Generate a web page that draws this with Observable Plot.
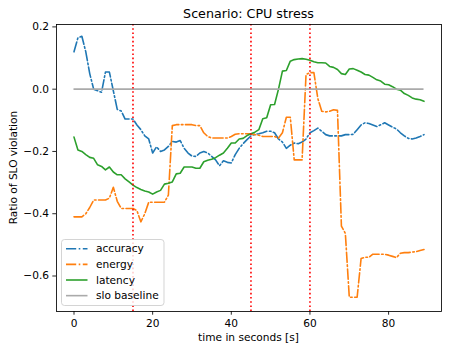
<!DOCTYPE html>
<html><head><meta charset="utf-8">
<script src="https://cdn.jsdelivr.net/npm/d3@7"></script>
<script src="https://cdn.jsdelivr.net/npm/@observablehq/plot@0.6"></script>
<style>body{margin:0;background:#fff;} #chart{width:449px;height:352px;}</style>
</head><body><div id="chart"></div>
<script>
const title = "Scenario: CPU stress";
const xLabel = "time in seconds [s]";
const yLabel = "Ratio of SLO violation";
const seriesNames = ["accuracy", "energy", "latency", "slo baseline"];
const seriesColors = ["#1f77b4", "#ff7f0e", "#2ca02c", "#aaaaaa"];
const xTicks = [0, 20, 40, 60, 80];
const yTicks = [-0.6, -0.4, -0.2, 0.0, 0.2];
const eventTimes = [15, 45, 60];
const sloBaseline = 0;

const time = [0,1,2,3,4,5,6,7,8,9,10,11,12,13,14,15,16,17,18,19,20,21,22,23,24,25,26,27,28,29,
30,31,32,33,34,35,36,37,38,39,40,41,42,43,44,45,46,47,48,49,50,51,52,53,54,55,56,57,58,59,
60,61,62,63,64,65,66,67,68,69,70,71,72,73,74,75,76,77,78,79,80,81,82,83,84,85,86,87,88,89];

const accuracy = [0.12,0.165,0.17,0.12,0.05,0.0,-0.005,-0.01,0.055,0.055,
-0.005,-0.065,-0.07,-0.096,-0.096,-0.096,-0.115,-0.13,-0.15,-0.16,
-0.205,-0.185,-0.2,-0.195,-0.184,-0.168,-0.17,-0.165,-0.19,-0.205,
-0.215,-0.216,-0.205,-0.2,-0.205,-0.216,-0.227,-0.246,-0.23,-0.235,
-0.237,-0.21,-0.19,-0.175,-0.162,-0.15,-0.145,-0.143,-0.14,-0.135,
-0.135,-0.14,-0.16,-0.17,-0.19,-0.18,-0.173,-0.175,-0.17,-0.16,
-0.14,-0.133,-0.125,-0.135,-0.146,-0.15,-0.15,-0.15,-0.15,-0.146,
-0.146,-0.145,-0.13,-0.115,-0.108,-0.11,-0.115,-0.12,-0.114,-0.108,
-0.115,-0.122,-0.128,-0.14,-0.15,-0.158,-0.16,-0.157,-0.152,-0.146];

const energy = [-0.41,-0.41,-0.41,-0.40,-0.38,-0.356,-0.356,-0.356,-0.356,-0.35,
-0.315,-0.36,-0.383,-0.383,-0.383,-0.383,-0.39,-0.426,-0.40,-0.363,
-0.363,-0.363,-0.363,-0.363,-0.34,-0.117,-0.114,-0.114,-0.114,-0.114,
-0.114,-0.117,-0.117,-0.14,-0.152,-0.157,-0.157,-0.157,-0.157,-0.157,
-0.152,-0.145,-0.143,-0.143,-0.143,-0.143,-0.146,-0.148,-0.152,-0.152,
-0.152,-0.152,-0.157,-0.14,-0.09,-0.09,-0.227,-0.227,-0.227,0.047,
0.053,0.053,-0.03,-0.071,-0.073,-0.071,-0.066,-0.068,-0.44,-0.463,
-0.668,-0.668,-0.668,-0.544,-0.54,-0.54,-0.53,-0.53,-0.53,-0.53,
-0.533,-0.537,-0.541,-0.527,-0.525,-0.525,-0.523,-0.522,-0.518,-0.515];

const latency = [-0.154,-0.195,-0.2,-0.21,-0.219,-0.222,-0.243,-0.248,-0.259,-0.25,
-0.266,-0.275,-0.275,-0.288,-0.298,-0.308,-0.316,-0.322,-0.327,-0.33,
-0.337,-0.33,-0.325,-0.305,-0.302,-0.298,-0.272,-0.27,-0.25,-0.25,
-0.25,-0.254,-0.254,-0.233,-0.228,-0.225,-0.22,-0.212,-0.205,-0.19,
-0.173,-0.173,-0.16,-0.158,-0.149,-0.143,-0.138,-0.13,-0.095,-0.092,
-0.05,-0.049,0.0,0.058,0.06,0.09,0.095,0.097,0.098,0.096,
0.093,0.088,0.085,0.085,0.084,0.073,0.07,0.063,0.05,0.047,
0.065,0.066,0.061,0.055,0.047,0.045,0.038,0.03,0.026,0.016,
0.014,0.008,0.0,-0.003,-0.014,-0.02,-0.028,-0.032,-0.034,-0.039];

const W = 449, H = 352;
const mL = 56, mR = 8, mT = 24, mB = 41;
const fontFamily = "DejaVu Sans";
const fs = 10.6;
const dashDot = "10.2,2.5,1.6,2.5";
const fmt = d => d.toFixed(1).replace("-", "\u2212");

const plot = Plot.plot({
  width: W, height: H,
  marginLeft: mL, marginRight: mR, marginTop: mT, marginBottom: mB,
  style: {fontFamily, fontSize: fs + "px", background: "white", color: "black"},
  x: {domain: [-4.45, 93.45]},
  y: {domain: [-0.714, 0.2077]},
  marks: [
    Plot.axisX({ticks: xTicks, tickSize: 3.7, tickPadding: 4.2, tickFormat: d => String(d), label: null, strokeWidth: 0.85}),
    Plot.axisY({ticks: yTicks, tickSize: 3.7, tickPadding: 3.7, tickFormat: fmt, label: null, strokeWidth: 0.85}),
    Plot.line(time, {x: d => d, y: (d, i) => accuracy[i], stroke: seriesColors[0], strokeWidth: 1.6, strokeDasharray: dashDot, strokeLinejoin: "round"}),
    Plot.line(time, {x: d => d, y: (d, i) => energy[i], stroke: seriesColors[1], strokeWidth: 1.6, strokeDasharray: dashDot, strokeLinejoin: "round"}),
    Plot.line(time, {x: d => d, y: (d, i) => latency[i], stroke: seriesColors[2], strokeWidth: 1.6, strokeLinejoin: "round"}),
    Plot.ruleY([sloBaseline], {x1: time[0], x2: time[time.length - 1], stroke: seriesColors[3], strokeWidth: 1.6}),
    Plot.ruleX(eventTimes, {stroke: "red", strokeWidth: 1.6, strokeDasharray: "1.6,2.6"}),
    Plot.frame({stroke: "black", strokeWidth: 0.85})
  ]
});

document.getElementById("chart").appendChild(plot);
const svg = d3.select(plot);

svg.append("text").attr("x", (mL + W - mR) / 2).attr("y", 18)
  .attr("text-anchor", "middle").attr("font-size", 12.7).attr("font-family", fontFamily)
  .attr("fill", "black").text(title);
svg.append("text").attr("x", (mL + W - mR) / 2).attr("y", 341)
  .attr("text-anchor", "middle").attr("font-size", fs).attr("font-family", fontFamily)
  .attr("fill", "black").text(xLabel);
svg.append("text").attr("transform", `translate(17,${(mT + H - mB) / 2}) rotate(-90)`)
  .attr("text-anchor", "middle").attr("font-size", fs).attr("font-family", fontFamily)
  .attr("fill", "black").text(yLabel);

const lg = svg.append("g");
lg.append("rect").attr("x", 61.5).attr("y", 239.5).attr("width", 102.5).attr("height", 66)
  .attr("rx", 3).attr("fill", "white").attr("fill-opacity", 0.8)
  .attr("stroke", "#cccccc").attr("stroke-width", 0.85);
seriesNames.forEach((name, i) => {
  const y = 248.7 + i * 15.65;
  lg.append("line").attr("x1", 66).attr("x2", 87.5).attr("y1", y).attr("y2", y)
    .attr("stroke", seriesColors[i]).attr("stroke-width", 1.6)
    .attr("stroke-dasharray", i < 2 ? dashDot : null);
  lg.append("text").attr("x", 96).attr("y", y).attr("dy", "0.35em")
    .attr("text-anchor", "start")
    .attr("font-size", fs).attr("font-family", fontFamily).attr("fill", "black").text(name);
});
</script>
</body></html>
